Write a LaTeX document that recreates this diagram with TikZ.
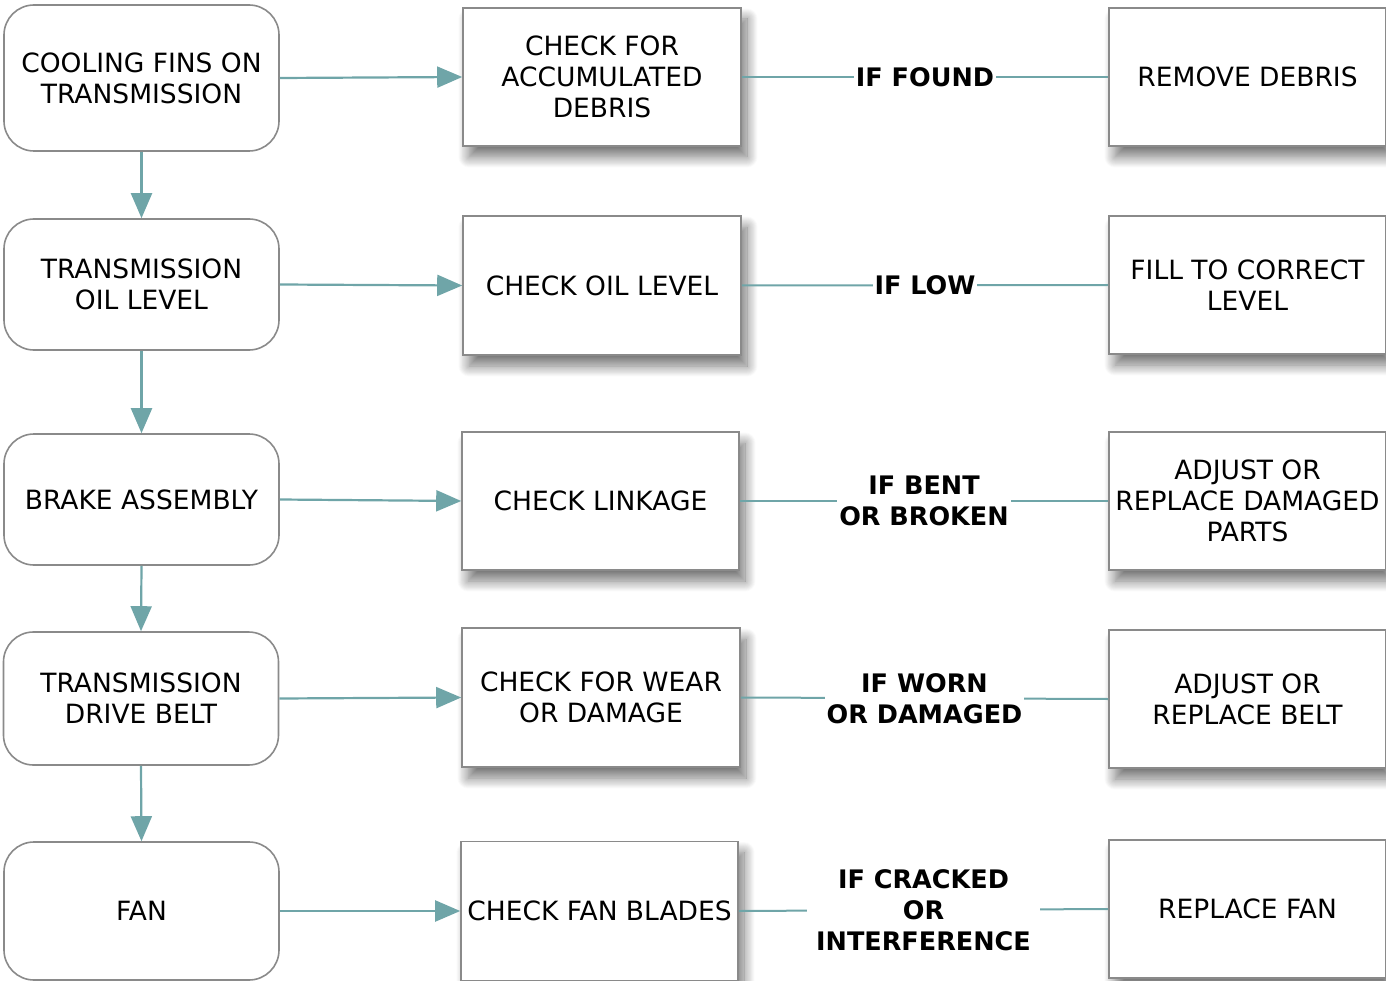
\documentclass[tikz,border=0pt]{standalone}
\usepackage{fontspec}
\setmainfont{DejaVu Sans}
\usetikzlibrary{arrows.meta,shadows.blur}

\definecolor{teal}{HTML}{6FA5A8}
\definecolor{edge}{HTML}{8A8A8A}

\tikzset{
  part/.style={rectangle, rounded corners=30pt, draw=edge, line width=1.6pt, fill=white,
    minimum width=275pt, align=center, font=\fontsize{26.5}{31}\selectfont},
  check/.style={rectangle, draw=edge, line width=1.6pt, fill=white,
    minimum width=278pt, minimum height=138pt, align=center, font=\fontsize{26.5}{31}\selectfont,
    blur shadow={shadow xshift=6pt, shadow yshift=-11pt, shadow blur radius=11pt,
      shadow blur steps=24, shadow opacity=55}},
  flow/.style={-{Triangle[length=25pt,width=21pt]}, draw=teal, line width=2.2pt},
  link/.style={draw=teal, line width=2pt},
  cond/.style={fill=white, inner xsep=2pt, inner ysep=0pt, align=center,
    font=\fontsize{25.5}{31}\selectfont\bfseries}
}

\begin{document}
\begin{tikzpicture}[x=1pt,y=-1pt]
\useasboundingbox (0,0) rectangle (1386,981);

% left column
\node[part, minimum height=146pt] (P1) at (141.5,78) {COOLING FINS ON\\TRANSMISSION};
\node[part, minimum height=131pt] (P2) at (141.5,284.5) {TRANSMISSION\\OIL LEVEL};
\node[part, minimum height=131pt] (P3) at (141.5,499.5) {BRAKE ASSEMBLY};
\node[part, minimum height=133pt] (P4) at (141,698.5) {TRANSMISSION\\DRIVE BELT};
\node[part, minimum height=138pt] (P5) at (141.5,911) {FAN};

% middle column
\node[check] (C1) at (602,77) {CHECK FOR\\ACCUMULATED\\DEBRIS};
\node[check, minimum height=139pt] (C2) at (602,285.5) {CHECK OIL LEVEL};
\node[check, minimum width=277pt] (C3) at (600.5,501) {CHECK LINKAGE};
\node[check, minimum height=139pt] (C4) at (601,697.5) {CHECK FOR WEAR\\OR DAMAGE};
\node[check, minimum width=277pt, minimum height=139pt] (C5) at (599.5,911) {CHECK FAN BLADES};

% right column
\node[check, minimum width=277pt] (R1) at (1247.5,77) {REMOVE DEBRIS};
\node[check, minimum width=277pt] (R2) at (1247.5,285) {FILL TO CORRECT\\LEVEL};
\node[check, minimum width=277pt] (R3) at (1247.5,501) {ADJUST OR\\REPLACE DAMAGED\\PARTS};
\node[check, minimum width=277pt] (R4) at (1247.5,699) {ADJUST OR\\REPLACE BELT};
\node[check, minimum width=277pt] (R5) at (1247.5,909) {REPLACE FAN};

% down the left column
\draw[flow] (P1.south) -- (P2.north);
\draw[flow] (P2.south) -- (P3.north);
\draw[flow] (P3.south) -- (P4.north);
\draw[flow] (P4.south) -- (P5.north);

% part to check
\draw[flow] (P1.east) -- (C1.west);
\draw[flow] (P2.east) -- (C2.west);
\draw[flow] (P3.east) -- (C3.west);
\draw[flow] (P4.east) -- (C4.west);
\draw[flow] (P5.east) -- (C5.west);

% check to remedy
\draw[link] (C1.east) -- node[cond] {IF FOUND} (R1.west);
\draw[link] (C2.east) -- node[cond] {IF LOW} (R2.west);
\draw[link] (C3.east) -- node[cond] {IF BENT\\OR BROKEN} (R3.west);
\draw[link] (C4.east) -- node[cond] {IF WORN\\OR DAMAGED} (R4.west);
\draw[link] (C5.east) -- node[cond, inner xsep=9pt] {IF CRACKED\\OR\\INTERFERENCE} (R5.west);

\end{tikzpicture}
\end{document}
